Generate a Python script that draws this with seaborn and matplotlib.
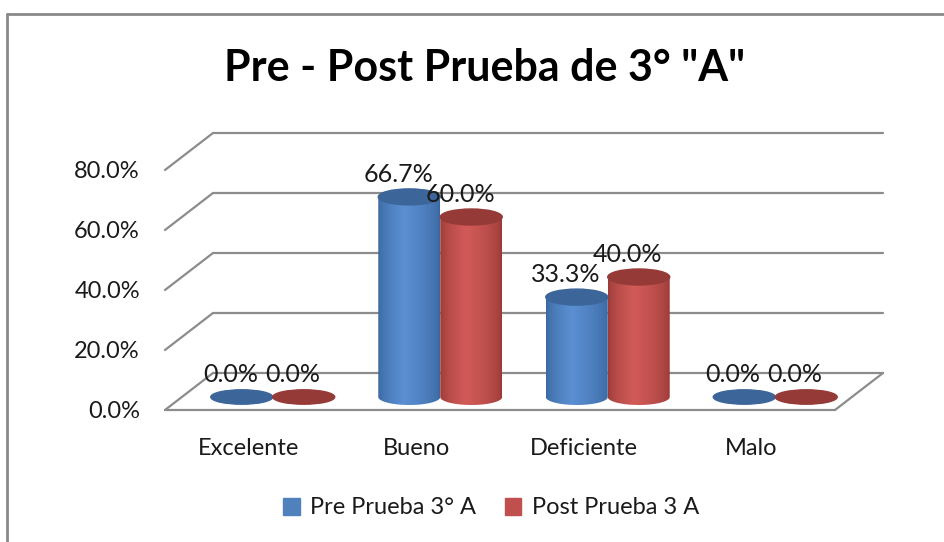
import numpy as np
import pandas as pd
import matplotlib
matplotlib.use("Agg")
import matplotlib.pyplot as plt
from matplotlib.patches import Ellipse, Patch
from matplotlib.path import Path
from matplotlib.lines import Line2D
import seaborn as sns

# --- Data ---------------------------------------------------------------------------
categories = ["Excelente", "Bueno", "Deficiente", "Malo"]
series_names = ["Pre Prueba 3° A", "Post Prueba 3 A"]
pre_values = [0.0, 66.7, 33.3, 0.0]
post_values = [0.0, 60.0, 40.0, 0.0]
y_ticks = [0, 20, 40, 60, 80]
y_tick_labels = ["0.0%", "20.0%", "40.0%", "60.0%", "80.0%"]

df = pd.DataFrame({
    "categoria": categories * 2,
    "serie": [series_names[0]] * 4 + [series_names[1]] * 4,
    "valor": pre_values + post_values,
})

# colours: (edge, highlight, top cap)
STYLE = {
    series_names[0]: ("#3a679f", "#5a8fd2", "#3c659a"),
    series_names[1]: ("#9a3a37", "#d25b58", "#953a37"),
}
GRID = "#8c8c8c"
FONT = "Lato"

W, H = 945, 542
fig = plt.figure(figsize=(W / 100, H / 100), dpi=100)
sns.set_style("white")
plt.rcParams["font.family"] = [FONT, "DejaVu Sans"]

# pseudo-3D geometry (pixels)
front_left, front_bottom = 165, 410
depth_dx, depth_dy = 48, 37          # back wall offset
bar_dx, bar_dy = 24, 13              # bar row offset
px_per_unit = 3.0
cat_px = 167.5

ymax = 80 + depth_dy / px_per_unit
d = depth_dx / cat_px
D = depth_dy / px_per_unit
xlim = (-0.5, 3.5 + d)
ax_w = (xlim[1] - xlim[0]) * cat_px
ax_h = ymax * px_per_unit

ax = fig.add_axes([front_left / W, (H - front_bottom) / H, ax_w / W, ax_h / H])
ax.set_xlim(xlim)
ax.set_ylim(0, ymax)
for s in ax.spines.values():
    s.set_visible(False)
ax.patch.set_alpha(0)

# back wall gridlines + side wall diagonals
for v in y_ticks:
    ax.plot([-0.5 + d, 3.5 + d], [v + D, v + D], color=GRID, lw=1.6, clip_on=False)
    ax.plot([-0.5, -0.5 + d], [v, v + D], color=GRID, lw=1.6, clip_on=False)
# floor
ax.plot([-0.5, 3.5], [0, 0], color=GRID, lw=1.6, clip_on=False)
ax.plot([3.5, 3.5 + d], [0, D], color=GRID, lw=1.6, clip_on=False)

ax.set_yticks(y_ticks)
ax.set_yticklabels(y_tick_labels, fontsize=17, color="#1a1a1a")
ax.set_xticks(range(len(categories)))
ax.set_xticklabels(categories, fontsize=17, color="#1a1a1a")
ax.tick_params(axis="y", length=0, pad=18)
ax.tick_params(axis="x", length=0, pad=20)
ax.set_xlabel("")
ax.set_ylabel("")

# bars on an offset axes (middle of the depth)
bx = fig.add_axes([(front_left + bar_dx) / W, (H - front_bottom + bar_dy) / H, ax_w / W, ax_h / H])
sns.barplot(data=df, x="categoria", y="valor", hue="serie", order=categories,
            hue_order=series_names, width=0.74, legend=False, ax=bx)
bx.set_xlim(xlim)
bx.set_ylim(0, ymax)
bx.axis("off")
bx.patch.set_alpha(0)

cap_h = 16 / px_per_unit
for i, p in enumerate(list(bx.patches)):
    serie = series_names[i // len(categories)]
    edge, light, top = STYLE[serie]
    x0, w, h = p.get_x(), p.get_width(), p.get_height()
    p.set_visible(False)
    xc = x0 + w / 2
    if h > 0:
        # cylinder body with horizontal shading, rounded at the bottom
        t = np.linspace(0, 1, 64)
        c_edge = np.array(matplotlib.colors.to_rgb(edge))
        c_light = np.array(matplotlib.colors.to_rgb(light))
        k = np.interp(t, [0, 0.42, 1], [0, 1, 0]) ** 0.6
        grad = c_edge[None, :] + (c_light - c_edge)[None, :] * k[:, None]
        img = bx.imshow(grad[None, :, :], extent=(x0, x0 + w, -cap_h / 2, h), aspect="auto",
                        zorder=3, interpolation="bilinear")
        th = np.linspace(np.pi, 2 * np.pi, 40)
        xs = xc + (w / 2) * np.cos(th)
        ys = (cap_h / 2) * np.sin(th)
        verts = np.column_stack([np.r_[xs, x0 + w, x0, xs[0]], np.r_[ys, h, h, ys[0]]])
        img.set_clip_box(fig.bbox)
        img.set_clip_path(Path(verts, closed=True), bx.transData)
        bx.add_patch(Ellipse((xc, h), w, cap_h, color=top, zorder=4, clip_on=False))
    else:
        bx.add_patch(Ellipse((xc, 0), w, cap_h * 0.9, color=top, zorder=4, clip_on=False))
    bx.annotate(f"{h:.1f}%", (xc, h), xytext=(-8, 16), textcoords="offset points",
                ha="center", va="center", fontsize=18, color="#1a1a1a",
                zorder=6, annotation_clip=False)
bx.set_xlim(xlim)
bx.set_ylim(0, ymax)

# title
fig.text(485 / W, 1 - 68 / H, 'Pre - Post Prueba de 3° "A"', ha="center", va="center",
         fontsize=31, fontweight="bold", color="black")

# legend
handles = [Patch(color="#4F81BD"), Patch(color="#C0504D")]
fig.legend(handles, series_names, loc="center", bbox_to_anchor=(491 / W, 1 - 508 / H),
           ncol=2, frameon=False, fontsize=17, handlelength=0.7, handleheight=0.7,
           handletextpad=0.45, columnspacing=1.2, labelcolor="#1a1a1a")

# outer chart border (top and left visible)
fig.add_artist(Line2D([7 / W, 1], [1 - 14 / H, 1 - 14 / H], color="#8a8a8a", lw=2))
fig.add_artist(Line2D([7 / W, 7 / W], [0, 1 - 14 / H], color="#8a8a8a", lw=2))

fig.savefig("out.png", dpi=100)
